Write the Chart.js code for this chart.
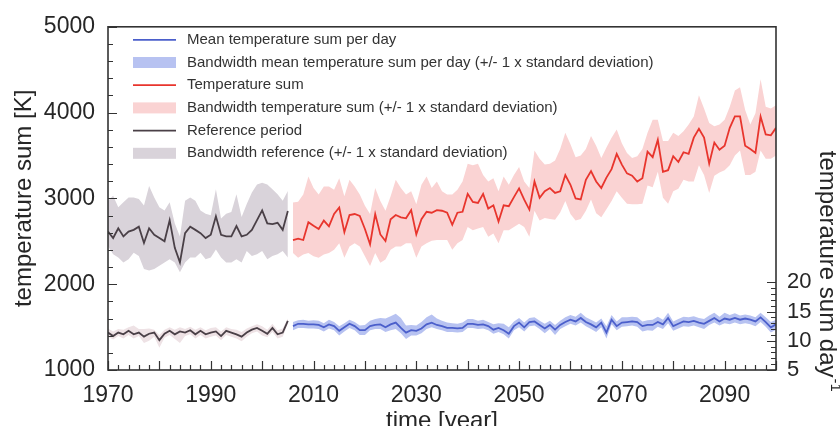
<!DOCTYPE html>
<html>
<head>
<meta charset="utf-8">
<script src="https://cdn.jsdelivr.net/npm/chart.js@4.4.1/dist/chart.umd.min.js"></script>
<style>
  html, body { margin: 0; padding: 0; background: #fff; }
  #wrap { width: 840px; height: 426px; }
</style>
</head>
<body>
<div id="wrap"><canvas id="myChart"></canvas></div>
<script>
// categories
function yearsFrom(first, last) {
    let out = [];
    for (let y = first; y <= last; y++) out.push(y);
    return out;
}
const refYears = yearsFrom(1970, 2005);
const projYears = yearsFrom(2006, 2100);

// reference period, temperature sum [K]
const refSum = [2614, 2538, 2652, 2557, 2614, 2633, 2670, 2481, 2652, 2576, 2538, 2500, 2746, 2424, 2254, 2595, 2670, 2633, 2595, 2538,
    2576, 2792, 2576, 2557, 2557, 2678, 2557, 2576, 2633, 2746, 2860, 2708, 2700, 2716, 2633, 2852];
const refSumHi = [2973, 3030, 2898, 2955, 3011, 3011, 2992, 2917, 3144, 3011, 2898, 2860, 2955, 2708, 2557, 2973, 3011, 2973, 2860, 2822,
    2803, 3106, 2765, 2822, 2841, 3049, 2784, 2936, 3068, 3163, 3182, 3163, 3106, 3049, 2973, 3087];
const refSumLo = [2443, 2348, 2311, 2254, 2292, 2367, 2330, 2178, 2159, 2178, 2216, 2254, 2292, 2254, 2140, 2254, 2311, 2311, 2367, 2292,
    2311, 2405, 2311, 2254, 2254, 2292, 2254, 2386, 2330, 2348, 2386, 2292, 2330, 2348, 2386, 2311];

// reference period, temperature sum per day
const refDay = [11.4, 10.8, 11.4, 11.1, 11.7, 11.1, 11.4, 10.7, 11.2, 11.4, 10.1, 11.2, 11.7, 11.1, 11.6, 11.4, 11.8, 11.1, 11.7, 11.1,
    11.4, 11.6, 10.8, 11.7, 11.4, 11.1, 10.7, 11.4, 11.9, 12.2, 11.7, 11.2, 12.2, 11.1, 11.4, 13.4];
const refDayHi = [12.1, 11.6, 12.0, 11.9, 12.3, 12.6, 12.0, 12.0, 12.1, 11.9, 11.0, 11.9, 12.3, 11.9, 12.3, 12.0, 12.4, 11.9, 12.3, 11.8,
    12.2, 12.3, 11.6, 12.3, 12.0, 11.9, 11.5, 12.1, 12.5, 12.8, 12.5, 11.9, 12.9, 11.8, 12.1, 13.8];
const refDayLo = [10.7, 10.2, 10.8, 10.4, 11.0, 10.4, 10.8, 9.6, 10.0, 10.7, 8.8, 10.5, 11.0, 10.3, 9.6, 10.8, 11.1, 10.4, 11.0, 10.4,
    10.7, 10.9, 10.1, 11.0, 10.7, 10.4, 9.9, 10.7, 11.3, 11.6, 10.9, 10.6, 11.5, 10.4, 10.7, 12.9];

// projection, temperature sum [K]
const tempSum = [2515, 2530, 2515, 2723, 2682, 2644, 2742, 2674, 2818, 2894, 2606, 2806, 2818, 2795, 2644, 2466, 2818, 2580, 2504, 2757,
    2806, 2780, 2768, 2863, 2580, 2757, 2844, 2833, 2863, 2856, 2833, 2693, 2833, 2844, 3053, 2958, 2947, 3053, 2882, 2920,
    2730, 2920, 2909, 3015, 3117, 2985, 2870,
    3197, 3007, 3083, 3121, 3064, 3083, 3273, 3159, 2999, 2988, 3216, 3318, 3197, 3121, 3242, 3341, 3519, 3394, 3292, 3265,
    3197, 3235, 3545, 3481, 3682, 3310, 3329, 3492, 3424, 3538, 3519, 3708, 3810, 3708, 3405, 3651, 3568, 3613, 3822, 3955,
    3955, 3613, 3576, 3530, 3955, 3746, 3735, 3822];
const tempSumHi = [2951, 2962, 3045, 3254, 3121, 3045, 3140, 3140, 3102, 3235, 3026, 3216, 3140, 3045, 2913, 2818, 3121, 2970, 2856, 3026,
    3216, 3121, 3045, 3083, 2932, 3159, 3254, 3121, 3197, 3083, 3045, 3045, 3102, 3197, 3405, 3386, 3405, 3273, 3197, 3235,
    3083, 3254, 3159, 3273, 3367, 3197, 3121,
    3557, 3462, 3394, 3405, 3443, 3576, 3765, 3632, 3481, 3500, 3576, 3727, 3613, 3470, 3594, 3708, 3803, 3644, 3530, 3470,
    3492, 3576, 3765, 3917, 3917, 3670, 3670, 3765, 3727, 3784, 3860, 3955, 4201, 4049, 3879, 3841, 3860, 3917, 4068, 4258,
    4295, 4030, 3860, 3992, 4390, 4068, 4049, 4087];
const tempSumLo = [2364, 2307, 2345, 2364, 2326, 2307, 2345, 2364, 2401, 2477, 2307, 2439, 2477, 2439, 2326, 2212, 2364, 2250, 2288, 2401,
    2439, 2439, 2477, 2477, 2307, 2439, 2477, 2507, 2515, 2515, 2515, 2401, 2477, 2515, 2667, 2629, 2648, 2667, 2553, 2591,
    2477, 2629, 2629, 2667, 2704, 2667, 2553,
    2856, 2742, 2773, 2761, 2750, 2837, 2970, 2818, 2742, 2761, 2856, 2988, 2826, 2780, 2875, 2970, 3083, 3007, 2939, 2932,
    2932, 2939, 3151, 3129, 3310, 3007, 2939, 3083, 3113, 3216, 3197, 3197, 3386, 3273, 3064, 3265, 3303, 3329, 3386, 3500,
    3557, 3273, 3273, 3310, 3557, 3462, 3462, 3500];

// projection, mean temperature sum per day
const dayMean = [12.5, 12.9, 12.9, 12.8, 12.8, 12.7, 12.3, 12.8, 12.5, 11.7, 12.3, 12.9, 12.5, 11.8, 11.8, 12.5, 12.7, 12.8, 12.3, 12.8,
    13.1, 12.2, 11.4, 11.8, 11.7, 12.1, 12.8, 13.1, 12.7, 12.5, 12.2, 12.2, 12.1, 12.2, 12.9, 12.9, 12.7, 12.8, 12.5, 11.9,
    12.2, 11.8, 11.2, 12.5, 13.1, 12.3, 13.2,
    13.3, 12.7, 12.1, 12.7, 11.9, 12.7, 13.2, 13.6, 13.3, 13.9, 13.2, 12.8, 12.3, 13.1, 11.4, 13.6, 12.5, 13.1, 13.2, 13.3,
    13.2, 12.5, 12.7, 12.7, 13.2, 12.8, 13.9, 12.5, 12.9, 13.3, 13.2, 13.4, 13.1, 12.9, 13.4, 13.9, 13.3, 13.8, 13.6, 13.9,
    13.6, 13.8, 13.6, 13.3, 14.0, 13.2, 12.3, 12.8];
const dayHi = [13.2, 13.5, 13.6, 13.4, 13.5, 13.4, 13.0, 13.6, 13.2, 12.5, 13.0, 13.6, 13.2, 12.6, 12.7, 13.4, 13.7, 13.9, 13.8, 14.2,
    14.6, 13.9, 12.6, 12.7, 12.6, 13.2, 14.0, 14.5, 13.8, 13.4, 13.1, 13.0, 12.9, 13.1, 13.7, 13.7, 13.4, 13.6, 13.2, 12.8,
    13.0, 12.9, 12.3, 13.3, 13.9, 13.1, 13.9,
    14.0, 13.4, 12.9, 13.4, 12.7, 13.4, 14.0, 14.4, 14.1, 14.8, 14.0, 13.6, 13.1, 13.8, 12.5, 14.4, 13.3, 14.0, 14.0, 14.1,
    14.0, 13.3, 13.5, 13.6, 14.1, 13.6, 14.8, 13.3, 13.7, 14.1, 14.0, 14.2, 13.9, 13.7, 14.3, 14.8, 14.1, 14.8, 14.4, 14.7,
    14.3, 14.5, 14.3, 14.0, 14.8, 14.0, 13.2, 13.6];
const dayLo = [11.8, 12.2, 12.2, 12.1, 12.1, 12.0, 11.6, 12.1, 11.8, 10.9, 11.6, 12.2, 11.8, 11.0, 11.0, 11.8, 12.0, 12.0, 11.5, 11.8,
    12.0, 11.3, 10.3, 10.9, 10.9, 11.3, 12.0, 12.3, 12.0, 11.8, 11.5, 11.5, 11.4, 11.5, 12.2, 12.2, 12.0, 12.1, 11.8, 11.2,
    11.5, 11.1, 10.4, 11.8, 12.3, 11.6, 12.5,
    12.6, 12.0, 11.3, 12.0, 11.0, 12.0, 12.5, 12.9, 12.6, 13.1, 12.5, 12.0, 11.5, 12.3, 10.4, 12.8, 11.8, 12.4, 12.5, 12.6,
    12.4, 11.6, 11.8, 11.7, 12.4, 12.0, 13.0, 11.7, 12.1, 12.5, 12.4, 12.6, 12.3, 12.0, 12.7, 13.1, 12.6, 13.0, 12.8, 13.1,
    12.8, 13.0, 12.8, 12.5, 13.2, 12.4, 11.4, 11.9];

// tick labels
const xTickValues = [1970, 1990, 2010, 2030, 2050, 2070, 2090];
const yTickValues = [1000, 2000, 3000, 4000, 5000];
const y1TickValues = [5, 10, 15, 20];

const FONT = '"Liberation Sans", Arial, Helvetica, sans-serif';
const INK = '#262626';

function toXY(years, vals) {
    return vals.map((v, i) => ({ x: years[i], y: v }));
}

function lineSet(label, years, vals, color, axis, legend) {
    return { label: label, data: toXY(years, vals), yAxisID: axis, borderColor: color, borderWidth: 1.8,
        pointRadius: 0, fill: false, tension: 0, order: 0, legend: legend };
}
function bandSet(label, years, hi, lo, color, axis, legend) {
    return [
        { label: label, data: toXY(years, hi), yAxisID: axis, borderWidth: 0, pointRadius: 0, backgroundColor: color,
          borderColor: color, fill: '+1', tension: 0, order: 1, legend: legend },
        { label: label + ' lo', data: toXY(years, lo), yAxisID: axis, borderWidth: 0, pointRadius: 0,
          borderColor: color, fill: false, tension: 0, order: 1 }
    ];
}

const BLUE = '#4b5fcb', BLUE_BAND = '#b7c2f1';
const RED = '#e8352d', RED_BAND = '#fad3d3';
const REF = '#4a4047', REF_BAND = '#d9d3da', REF_DAY_BAND = '#eee2e5';

const datasets = [
    lineSet('Mean temperature sum per day', projYears, dayMean, BLUE, 'y1', 'line'),
    ...bandSet('Bandwidth mean temperature sum per day (+/- 1 x standard deviation)', projYears, dayHi, dayLo, BLUE_BAND, 'y1', 'band'),
    lineSet('Temperature sum', projYears, tempSum, RED, 'y', 'line'),
    ...bandSet('Bandwidth temperature sum (+/- 1 x standard deviation)', projYears, tempSumHi, tempSumLo, RED_BAND, 'y', 'band'),
    lineSet('Reference period', refYears, refSum, REF, 'y', 'line'),
    ...bandSet('Bandwidth reference (+/- 1 x standard deviation)', refYears, refSumHi, refSumLo, REF_BAND, 'y', 'band'),
    lineSet('Reference period per day', refYears, refDay, REF, 'y1', null),
    ...bandSet('Bandwidth reference per day', refYears, refDayHi, refDayLo, REF_DAY_BAND, 'y1', null)
];

// inward tick marks and the frame round the plot
const frameTicks = {
    id: 'frameTicks',
    afterDatasetsDraw(chart) {
        const { ctx, chartArea: a, scales } = chart;
        ctx.save();
        ctx.strokeStyle = '#333';
        ctx.lineWidth = 1.2;
        ctx.beginPath();
        for (let yr = 1970; yr <= 2100; yr += 2) {
            const px = Math.round(scales.x.getPixelForValue(yr)) + 0.5;
            const len = yr % 10 === 0 ? 9 : 5;
            ctx.moveTo(px, a.bottom); ctx.lineTo(px, a.bottom - len);
        }
        for (let v = 1000; v <= 5000; v += 200) {
            const py = Math.round(scales.y.getPixelForValue(v)) + 0.5;
            const len = v % 1000 === 0 ? 9 : 5;
            ctx.moveTo(a.left, py); ctx.lineTo(a.left + len, py);
        }
        for (let v = 5; v <= 20; v += 1) {
            const py = Math.round(scales.y1.getPixelForValue(v)) + 0.5;
            const len = v % 5 === 0 ? 9 : 5;
            ctx.moveTo(a.right, py); ctx.lineTo(a.right - len, py);
        }
        ctx.stroke();
        ctx.lineWidth = 1.6;
        ctx.strokeRect(a.left, a.top, a.right - a.left, a.bottom - a.top);
        ctx.restore();
    }
};

// legend inside the plot, and the right-hand axis title
const insideLegend = {
    id: 'insideLegend',
    afterDraw(chart) {
        const { ctx, chartArea: a } = chart;
        const x0 = a.left + 25;
        let y = a.top + 13;
        ctx.save();
        ctx.font = '15px ' + FONT;
        ctx.textBaseline = 'middle';
        chart.data.datasets.forEach(ds => {
            if (!ds.legend) return;
            if (ds.legend === 'line') {
                ctx.strokeStyle = ds.borderColor;
                ctx.lineWidth = 1.8;
                ctx.beginPath();
                ctx.moveTo(x0, y); ctx.lineTo(x0 + 43, y);
                ctx.stroke();
            } else {
                ctx.fillStyle = ds.backgroundColor;
                ctx.fillRect(x0, y - 5.5, 43, 11);
            }
            ctx.fillStyle = '#333';
            ctx.fillText(ds.label, x0 + 54, y);
            y += 22.7;
        });

        // temperature sum day^-1
        ctx.translate(chart.width - 13, a.top + 124);
        ctx.rotate(Math.PI / 2);
        ctx.fillStyle = INK;
        ctx.font = '24px ' + FONT;
        ctx.textAlign = 'left';
        ctx.textBaseline = 'middle';
        const main = 'temperature sum day';
        ctx.fillText(main, 0, 0);
        const w = ctx.measureText(main).width;
        ctx.font = '15px ' + FONT;
        ctx.fillText('-1', w + 1, -8);
        ctx.restore();
    }
};

const tickFont = { family: FONT, size: 23 };

let ctx = document.getElementById('myChart');
let myChart = new Chart(ctx, {
    type: 'line',
    data: { datasets: datasets },
    plugins: [frameTicks, insideLegend],
    options: {
        responsive: true,
        maintainAspectRatio: false,
        animation: false,
        devicePixelRatio: 1,
        layout: { padding: { top: 19, right: 0, bottom: 0, left: 0 } },
        plugins: { legend: { display: false }, tooltip: { enabled: false } },
        scales: {
            x: {
                type: 'linear',
                min: 1970,
                max: 2100,
                afterBuildTicks: s => { s.ticks = xTickValues.map(v => ({ value: v })); },
                afterFit: s => { s.height = 56; },
                ticks: { font: tickFont, color: INK, padding: 12, maxRotation: 0, autoSkip: false, callback: v => String(v) },
                grid: { display: false, drawTicks: false },
                border: { display: false },
                title: { display: true, text: 'time [year]', color: INK, font: { family: FONT, size: 24 }, padding: { top: 0, bottom: -10 } }
            },
            y: {
                position: 'left',
                min: 1000,
                max: 5000,
                afterBuildTicks: s => { s.ticks = yTickValues.map(v => ({ value: v })); },
                afterFit: s => { s.width = 108; },
                ticks: { font: tickFont, color: INK, padding: 13, callback: v => String(v) },
                grid: { display: false, drawTicks: false },
                border: { display: false },
                title: { display: true, text: 'temperature sum [K]', color: INK, font: { family: FONT, size: 24 }, padding: { top: 10, bottom: 0 } }
            },
            y1: {
                position: 'right',
                min: 5,
                max: 63.67,
                afterBuildTicks: s => { s.ticks = y1TickValues.map(v => ({ value: v })); },
                afterFit: s => { s.width = 64; },
                ticks: { font: { family: FONT, size: 22 }, color: INK, padding: 11, callback: v => String(v) },
                grid: { display: false, drawTicks: false },
                border: { display: false }
            }
        }
    }
});
</script>
</body>
</html>
